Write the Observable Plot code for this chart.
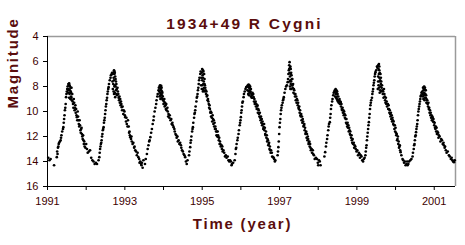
<!DOCTYPE html>
<html>
<head>
<meta charset="utf-8">
<script src="https://cdn.jsdelivr.net/npm/d3@7"></script>
<script src="https://cdn.jsdelivr.net/npm/@observablehq/plot@0.6"></script>
<style>
  html, body { margin: 0; padding: 0; background: #fff; }
  #chart svg { display: block; }
</style>
</head>
<body>
<div id="chart"></div>
<script>
const cycle1 = [
  [1991.02,13.7],[1991.05,13.9],[1991.08,13.8],[1991.17,14.3],
  [1991.24,13.65],[1991.25,13.2],[1991.26,13.4],[1991.27,12.9],[1991.28,12.8],[1991.29,12.6],[1991.30,12.5],[1991.32,12.4],[1991.34,12.3],[1991.35,12.1],[1991.36,11.9],[1991.38,11.6],[1991.40,11.4],[1991.41,11.25],[1991.42,10.9],[1991.43,10.6],[1991.44,10.3],[1991.45,9.9],[1991.46,9.7],[1991.47,9.4],[1991.48,8.85],[1991.49,8.6],[1991.50,8.4],[1991.51,8.2],[1991.52,8.0],[1991.54,7.8],[1991.56,7.75],
  [1991.55,8.2],[1991.57,8.6],[1991.58,8.0],[1991.59,9.0],[1991.60,8.4],[1991.61,8.8],[1991.62,8.1],[1991.63,9.1],[1991.56,8.9],[1991.53,8.5],
  [1991.57,7.9],[1991.58,8.3],[1991.59,8.5],[1991.60,8.1],[1991.61,8.5],[1991.62,8.9],[1991.64,8.6],[1991.65,9.2],[1991.55,7.9],[1991.54,8.3],
  [1991.66,9.4],[1991.67,9.7],[1991.68,9.0],[1991.69,9.3],[1991.70,9.9],[1991.71,9.7],[1991.72,9.5],[1991.73,10.1],[1991.74,9.8],[1991.75,10.3],[1991.76,10.45],[1991.77,10.7],[1991.78,10.0],[1991.79,10.4],[1991.80,10.7],[1991.81,11.0],[1991.82,11.2],[1991.83,10.7],[1991.84,11.1],[1991.85,11.5],[1991.86,11.7],[1991.87,11.4],[1991.88,11.3],[1991.89,11.8],[1991.90,12.0],[1991.91,12.2],[1991.92,11.9],[1991.93,12.3],[1991.94,12.6],[1991.95,12.4],[1991.96,12.8],[1991.98,12.9],[1992.00,12.6],[1992.02,13.0],[1992.04,13.3],[1992.07,13.2],
  [1992.10,13.1],[1992.13,13.7],[1992.16,13.9],[1992.19,14.0],[1992.22,14.2],[1992.25,14.1],[1992.28,14.2]
];
const cycle2 = [
  [1992.32,13.9],[1992.34,13.65],[1992.35,13.3],[1992.36,13.0],[1992.37,12.8],[1992.38,12.6],[1992.39,12.5],[1992.40,12.3],[1992.41,12.0],[1992.42,11.8],[1992.43,11.5],[1992.44,11.4],[1992.45,11.25],[1992.46,10.9],[1992.47,10.7],[1992.48,10.5],[1992.49,10.2],[1992.50,9.9],[1992.51,9.6],[1992.52,9.4],[1992.53,9.1],[1992.54,8.9],[1992.55,8.6],[1992.56,8.4],[1992.57,8.2],[1992.58,8.05],[1992.59,7.8],[1992.61,7.5],[1992.63,7.3],[1992.64,7.1],[1992.66,7.0],[1992.67,6.9],
  [1992.72,6.7],[1992.70,6.9],[1992.68,7.6],[1992.69,8.2],[1992.71,7.3],[1992.72,8.6],[1992.73,7.0],[1992.74,7.9],[1992.75,8.85],[1992.76,7.4],[1992.77,8.3],[1992.74,6.9],[1992.78,7.8],
  [1992.69,7.0],[1992.70,7.8],[1992.71,8.4],[1992.73,8.0],[1992.74,8.5],[1992.75,7.2],[1992.76,8.0],[1992.77,7.6],[1992.78,8.6],[1992.79,8.2],[1992.80,8.7],[1992.72,7.5],[1992.73,6.8],
  [1992.81,8.1],[1992.82,8.4],[1992.83,8.6],[1992.84,8.9],[1992.85,9.1],[1992.86,8.8],[1992.87,9.3],[1992.88,9.0],[1992.89,9.5],[1992.90,9.2],[1992.91,9.4],[1992.92,9.65],[1992.93,9.9],[1992.94,9.6],[1992.96,10.2],[1992.97,9.9],[1992.99,10.0],[1993.00,10.3],[1993.01,10.45],[1993.03,10.8],[1993.04,10.5],[1993.05,11.0],[1993.07,11.2],[1993.08,10.7],[1993.10,11.2],[1993.11,11.7],[1993.12,11.6],[1993.13,11.9],[1993.14,12.05],[1993.16,12.2],[1993.17,12.0],[1993.18,12.4],[1993.20,12.6],[1993.22,12.5],[1993.24,12.9],[1993.25,12.8],[1993.27,13.1],[1993.29,13.2],[1993.31,13.5],[1993.33,13.3],[1993.35,13.65],
  [1993.37,13.8],[1993.38,14.1],[1993.40,14.0],[1993.42,14.2],[1993.43,14.3],[1993.44,14.1],[1993.46,14.5],[1993.48,13.9]
];
const cycle3 = [
  [1993.52,14.2],[1993.54,13.8],[1993.57,13.4],[1993.59,13.0],[1993.61,12.7],[1993.63,12.4],[1993.64,12.3],[1993.66,12.05],[1993.68,11.7],[1993.70,11.4],[1993.72,11.0],[1993.74,10.7],[1993.75,10.4],[1993.77,10.0],[1993.79,9.7],[1993.81,9.4],[1993.82,9.1],[1993.84,8.8],[1993.85,8.6],[1993.87,8.3],[1993.88,8.1],[1993.90,8.0],[1993.91,7.9],
  [1993.89,8.4],[1993.92,8.7],[1993.93,8.1],[1993.95,8.9],[1993.96,8.4],[1993.98,8.8],[1993.90,8.8],[1993.94,7.95],
  [1993.91,8.5],[1993.92,8.2],[1993.93,8.6],[1993.94,8.3],[1993.95,8.1],[1993.96,8.7],[1993.97,8.5],[1993.99,9.1],[1993.97,9.0],[1993.92,9.0],
  [1994.00,9.4],[1994.01,9.2],[1994.02,9.0],[1994.03,9.6],[1994.04,9.3],[1994.05,9.5],[1994.06,9.8],[1994.07,9.4],[1994.08,9.9],[1994.10,9.7],[1994.11,10.0],[1994.12,10.4],[1994.13,10.2],[1994.15,10.5],[1994.16,10.3],[1994.18,10.7],[1994.20,10.6],[1994.21,11.0],[1994.23,10.9],[1994.24,11.1],[1994.26,11.25],[1994.28,11.4],[1994.29,11.6],[1994.31,11.8],[1994.33,11.9],[1994.34,12.1],[1994.36,12.0],[1994.37,12.4],[1994.39,12.3],[1994.41,12.6],[1994.43,12.5],[1994.45,12.7],[1994.46,12.9],[1994.48,13.1],[1994.50,13.2],[1994.52,13.4],[1994.54,13.5],
  [1994.56,13.65],[1994.58,14.0],[1994.60,14.2],[1994.62,13.9]
];
const cycle4 = [
  [1994.66,13.5],[1994.67,13.2],[1994.69,12.85],[1994.70,12.5],[1994.71,12.3],[1994.72,12.0],[1994.74,11.6],[1994.75,11.4],[1994.76,11.25],[1994.77,10.9],[1994.79,10.5],[1994.80,10.2],[1994.81,10.1],[1994.82,9.9],[1994.83,9.6],[1994.85,9.2],[1994.86,8.9],[1994.87,8.8],[1994.88,8.6],[1994.89,8.3],[1994.90,8.1],[1994.91,7.8],[1994.92,7.5],[1994.93,7.3],[1994.95,7.0],[1994.96,6.8],[1995.00,6.6],
  [1994.98,7.3],[1995.00,7.9],[1995.01,7.1],[1995.02,8.4],[1995.03,6.8],[1995.04,7.6],[1995.05,8.1],[1994.97,7.9],[1995.06,7.4],
  [1994.99,6.9],[1995.00,7.5],[1995.01,8.2],[1995.02,7.3],[1995.03,7.8],[1995.04,8.3],[1995.05,7.0],[1995.06,7.8],[1995.07,8.4],[1995.08,8.1],[1995.02,6.7],[1994.99,8.2],
  [1995.07,7.9],[1995.09,8.3],[1995.10,8.6],[1995.11,8.4],[1995.12,8.8],[1995.13,8.7],[1995.14,9.1],[1995.15,9.0],[1995.16,9.2],[1995.17,9.4],[1995.18,9.7],[1995.19,9.5],[1995.20,9.8],[1995.21,10.1],[1995.22,10.0],[1995.23,10.4],[1995.24,10.1],[1995.25,10.5],[1995.26,10.8],[1995.27,10.3],[1995.28,10.6],[1995.29,11.0],[1995.30,10.7],[1995.31,11.2],[1995.32,10.9],[1995.33,11.4],[1995.34,11.2],[1995.35,11.4],[1995.36,11.6],[1995.37,11.9],[1995.38,11.6],[1995.39,12.0],[1995.40,11.6],[1995.41,11.9],[1995.42,12.05],[1995.43,12.3],[1995.44,12.1],[1995.45,12.6],[1995.46,12.4],[1995.47,12.6],[1995.48,12.8],[1995.50,12.7],[1995.51,13.0],[1995.52,12.8],[1995.53,13.2],[1995.55,13.1],[1995.57,13.3],[1995.59,13.6],[1995.61,13.5],[1995.63,13.7],[1995.66,13.6],[1995.68,13.9],
  [1995.70,14.0],[1995.72,13.9],[1995.74,14.0],[1995.76,14.3],[1995.77,14.2],[1995.80,14.1]
];
const cycle5 = [
  [1995.84,13.9],[1995.86,13.4],[1995.87,13.0],[1995.88,12.9],[1995.89,12.6],[1995.91,12.3],[1995.92,12.1],[1995.94,11.8],[1995.95,11.5],[1995.97,11.1],[1995.98,10.9],[1995.99,10.7],[1996.00,10.45],[1996.01,10.1],[1996.02,9.9],[1996.03,9.6],[1996.04,9.3],[1996.05,9.2],[1996.07,8.85],[1996.08,8.6],[1996.10,8.4],[1996.12,8.2],[1996.14,8.05],[1996.16,8.0],[1996.20,7.85],
  [1996.17,8.3],[1996.19,8.6],[1996.21,8.1],[1996.23,8.5],[1996.24,8.0],[1996.26,8.8],[1996.22,7.9],
  [1996.18,7.9],[1996.20,8.4],[1996.21,8.7],[1996.22,8.3],[1996.23,8.1],[1996.25,8.4],[1996.26,8.2],[1996.27,8.6],[1996.28,8.9],[1996.19,8.0],
  [1996.29,8.7],[1996.30,8.5],[1996.31,8.9],[1996.32,8.6],[1996.33,8.85],[1996.34,9.2],[1996.35,9.0],[1996.36,9.4],[1996.37,9.3],[1996.38,9.2],[1996.39,9.6],[1996.40,9.4],[1996.41,9.8],[1996.42,9.6],[1996.43,9.5],[1996.44,10.1],[1996.45,9.8],[1996.46,9.9],[1996.47,10.2],[1996.48,10.4],[1996.49,10.1],[1996.50,10.5],[1996.51,10.7],[1996.52,10.4],[1996.53,10.9],[1996.54,10.6],[1996.55,11.1],[1996.56,10.8],[1996.57,11.0],[1996.58,11.4],[1996.59,11.25],[1996.60,11.0],[1996.61,11.5],[1996.62,11.3],[1996.63,11.8],[1996.64,11.9],[1996.65,11.6],[1996.66,12.1],[1996.67,11.9],[1996.68,12.4],[1996.69,12.2],[1996.70,12.3],[1996.71,12.7],[1996.72,12.6],[1996.73,12.5],[1996.74,13.0],[1996.75,12.8],[1996.76,13.1],[1996.77,13.3],[1996.78,13.1],[1996.80,13.3],[1996.81,13.6],[1996.83,13.65],
  [1996.85,13.7],[1996.86,13.8],[1996.88,14.0],[1996.89,13.9]
];
const cycle6 = [
  [1996.95,13.5],[1996.96,13.2],[1996.97,12.85],[1996.98,12.4],[1996.99,11.8],[1997.00,11.25],[1997.01,10.9],[1997.02,10.6],[1997.03,10.2],[1997.04,9.9],[1997.05,9.7],[1997.06,9.5],[1997.08,9.3],[1997.09,9.1],[1997.10,9.0],[1997.11,8.85],[1997.13,8.5],[1997.15,8.2],[1997.17,8.0],[1997.19,7.9],[1997.21,7.65],[1997.22,7.4],[1997.23,7.0],[1997.24,6.7],[1997.25,6.3],[1997.26,6.05],
  [1997.25,6.6],[1997.27,7.2],[1997.28,6.4],[1997.29,7.8],[1997.30,6.9],[1997.31,8.2],[1997.32,7.4],[1997.27,8.0],[1997.33,7.9],
  [1997.26,6.9],[1997.27,6.5],[1997.28,7.5],[1997.29,7.0],[1997.30,7.6],[1997.31,7.1],[1997.32,7.9],[1997.33,7.4],[1997.34,8.1],[1997.35,7.8],[1997.26,7.6],[1997.29,6.6],[1997.28,8.2],
  [1997.36,8.5],[1997.37,8.2],[1997.38,8.3],[1997.39,8.6],[1997.40,8.8],[1997.41,8.6],[1997.42,9.1],[1997.43,8.8],[1997.44,9.3],[1997.45,9.0],[1997.46,9.1],[1997.47,9.5],[1997.48,9.3],[1997.49,9.7],[1997.50,9.8],[1997.51,9.6],[1997.52,10.1],[1997.53,9.9],[1997.54,10.3],[1997.55,10.4],[1997.56,10.2],[1997.57,10.7],[1997.58,10.4],[1997.59,10.9],[1997.60,10.6],[1997.61,10.8],[1997.62,11.2],[1997.63,11.1],[1997.64,11.0],[1997.65,11.5],[1997.66,11.3],[1997.67,11.8],[1997.68,11.7],[1997.69,11.6],[1997.70,12.1],[1997.71,11.8],[1997.72,12.3],[1997.73,12.0],[1997.74,12.2],[1997.75,12.6],[1997.76,12.45],[1997.77,12.4],[1997.78,12.8],[1997.79,12.6],[1997.80,12.9],[1997.81,13.1],[1997.83,13.0],[1997.84,13.3],[1997.86,13.1],[1997.87,13.4],[1997.89,13.5],
  [1997.91,13.8],[1997.94,13.7],[1997.97,13.8],[1997.99,14.1],[1998.00,14.3],[1998.02,13.9],[1998.04,14.0],[1998.06,14.3]
];
const cycle7 = [
  [1998.16,13.6],[1998.18,13.25],[1998.20,12.8],[1998.21,12.5],[1998.23,12.2],[1998.24,11.9],[1998.26,11.5],[1998.27,11.2],[1998.28,11.0],[1998.30,10.85],[1998.31,10.5],[1998.32,10.2],[1998.33,9.8],[1998.34,9.5],[1998.36,9.2],[1998.37,9.0],[1998.39,8.7],[1998.40,8.5],[1998.42,8.4],[1998.43,8.3],[1998.45,8.2],
  [1998.44,8.8],[1998.46,8.3],[1998.47,8.5],[1998.48,9.0],[1998.50,8.6],[1998.51,9.2],
  [1998.44,8.4],[1998.45,8.6],[1998.46,8.9],[1998.47,8.3],[1998.48,8.6],[1998.49,8.8],[1998.50,9.1],[1998.52,8.8],[1998.53,9.3],[1998.49,8.4],
  [1998.54,9.1],[1998.55,9.0],[1998.56,9.4],[1998.57,9.2],[1998.58,9.25],[1998.59,9.6],[1998.60,9.4],[1998.61,9.8],[1998.62,9.9],[1998.63,9.7],[1998.64,10.1],[1998.65,9.9],[1998.66,10.3],[1998.67,10.0],[1998.68,10.2],[1998.69,10.5],[1998.70,10.3],[1998.71,10.6],[1998.72,10.9],[1998.73,10.6],[1998.74,11.0],[1998.75,11.2],[1998.76,10.9],[1998.77,11.3],[1998.78,11.1],[1998.79,11.6],[1998.80,11.3],[1998.81,11.5],[1998.82,11.8],[1998.83,11.6],[1998.84,11.9],[1998.85,12.1],[1998.86,11.9],[1998.87,12.3],[1998.88,12.5],[1998.89,12.2],[1998.90,12.6],[1998.92,12.5],[1998.93,12.9],[1998.94,12.7],[1998.96,12.8],[1998.97,13.0],[1998.99,13.2],[1999.01,13.1],[1999.03,13.5],[1999.05,13.3],[1999.07,13.4],[1999.08,13.7],[1999.10,13.5],[1999.12,13.6],
  [1999.14,13.9],[1999.16,14.0],[1999.18,13.8],[1999.20,13.7],[1999.22,13.5]
];
const cycle8 = [
  [1999.23,13.2],[1999.24,12.9],[1999.25,12.7],[1999.26,12.3],[1999.27,12.0],[1999.28,11.7],[1999.29,11.4],[1999.30,11.1],[1999.31,10.85],[1999.32,10.5],[1999.33,10.2],[1999.34,9.8],[1999.35,9.5],[1999.36,9.3],[1999.37,9.1],[1999.39,8.9],[1999.40,8.6],[1999.41,8.4],[1999.42,8.2],[1999.43,7.9],[1999.44,7.7],[1999.45,7.5],[1999.46,7.2],[1999.47,7.0],[1999.48,6.85],[1999.50,6.7],[1999.52,6.4],[1999.53,6.5],[1999.55,6.3],[1999.57,6.2],
  [1999.54,8.2],[1999.55,7.2],[1999.56,7.9],[1999.58,6.7],[1999.59,7.6],[1999.60,8.3],[1999.61,7.0],[1999.62,7.8],[1999.63,8.4],
  [1999.56,6.6],[1999.57,7.0],[1999.58,7.3],[1999.59,6.9],[1999.60,7.5],[1999.61,8.0],[1999.62,7.3],[1999.63,7.6],[1999.64,8.1],[1999.65,7.9],[1999.66,8.3],[1999.55,7.6],[1999.57,8.1],[1999.58,6.4],[1999.59,8.5],
  [1999.67,8.6],[1999.68,8.4],[1999.69,8.9],[1999.70,8.2],[1999.71,8.6],[1999.72,8.8],[1999.73,9.1],[1999.74,9.3],[1999.75,8.9],[1999.76,9.4],[1999.77,9.2],[1999.78,9.6],[1999.79,9.4],[1999.80,9.4],[1999.81,9.8],[1999.82,9.5],[1999.83,9.8],[1999.84,10.1],[1999.85,9.9],[1999.86,10.2],[1999.87,10.4],[1999.88,10.1],[1999.89,10.6],[1999.90,10.3],[1999.91,10.8],[1999.92,10.5],[1999.93,10.7],[1999.94,11.0],[1999.95,10.8],[1999.96,11.1],[1999.97,11.4],[1999.98,11.1],[1999.99,11.6],[2000.00,11.3],[2000.01,11.7],[2000.02,11.9],[2000.03,11.8],[2000.04,12.3],[2000.05,12.2],[2000.06,12.0],[2000.07,12.6],[2000.08,12.4],[2000.09,12.9],[2000.10,12.8],[2000.11,12.7],[2000.12,13.1],[2000.13,13.25],[2000.15,13.5],
  [2000.18,13.8],[2000.20,13.9],[2000.22,14.1],[2000.24,14.0],[2000.26,14.3],[2000.28,14.2],[2000.30,14.0],[2000.31,14.3],[2000.33,14.2],[2000.35,14.0],[2000.38,13.9]
];
const cycle9 = [
  [2000.41,13.8],[2000.44,13.6],[2000.45,13.3],[2000.47,13.0],[2000.48,12.7],[2000.49,12.6],[2000.50,12.3],[2000.51,12.0],[2000.52,11.9],[2000.53,11.65],[2000.54,11.4],[2000.55,11.2],[2000.56,11.0],[2000.57,10.7],[2000.58,10.3],[2000.59,10.0],[2000.60,9.8],[2000.61,9.6],[2000.62,9.4],[2000.63,9.2],[2000.64,9.0],[2000.65,8.8],[2000.66,8.7],[2000.67,8.5],[2000.69,8.4],[2000.71,8.1],[2000.73,8.05],
  [2000.71,8.8],[2000.74,8.5],[2000.75,9.1],[2000.76,8.1],[2000.77,8.3],[2000.78,8.9],[2000.80,9.3],
  [2000.70,8.6],[2000.72,8.3],[2000.73,8.7],[2000.74,8.2],[2000.75,8.6],[2000.76,8.9],[2000.77,8.6],[2000.78,8.3],[2000.79,8.7],[2000.80,9.0],[2000.81,9.3],[2000.82,9.1],[2000.72,9.0],[2000.74,8.0],
  [2000.83,9.4],[2000.84,9.6],[2000.85,9.3],[2000.86,9.8],[2000.87,9.7],[2000.88,10.1],[2000.89,9.9],[2000.90,10.3],[2000.91,10.1],[2000.92,10.5],[2000.93,10.3],[2000.94,10.7],[2000.95,10.4],[2000.96,10.5],[2000.97,10.8],[2000.98,10.6],[2000.99,10.85],[2001.00,11.1],[2001.01,10.9],[2001.02,11.3],[2001.03,11.4],[2001.04,11.2],[2001.05,11.6],[2001.06,11.3],[2001.07,11.8],[2001.08,11.6],[2001.10,11.7],[2001.11,12.1],[2001.12,11.9],[2001.14,12.0],[2001.16,12.4],[2001.18,12.2],[2001.20,12.3],[2001.22,12.6],[2001.24,12.5],[2001.25,12.7],[2001.27,12.9],[2001.28,12.8],[2001.30,13.1],[2001.32,13.3],[2001.35,13.2],[2001.38,13.5],[2001.40,13.6],[2001.43,13.8],[2001.45,13.7],[2001.47,13.9],[2001.49,14.0],[2001.51,14.05],[2001.53,13.9]
];

const yearTicks = [1991,1992,1993,1994,1995,1996,1997,1998,1999,2000,2001];
const yearLabels = [1991,1993,1995,1997,1999,2001];
const magTicks = [4,6,8,10,12,14,16];
const xDomain = [1991, 2001.55];
const yDomain = [4, 16];

const obs = [cycle1, cycle2, cycle3, cycle4, cycle5, cycle6, cycle7, cycle8, cycle9]
  .flat().map(([t, m]) => ({year: t, mag: m}));

const font = "'Liberation Sans', Arial, Helvetica, sans-serif";
const maroon = "#5a0d0d";
const tickText = "#3d0000";

const chart = Plot.plot({
  width: 465,
  height: 245,
  marginLeft: 47,
  marginRight: 10,
  marginTop: 36,
  marginBottom: 59,
  style: {fontFamily: font, background: "#fff", overflow: "visible"},
  x: {domain: xDomain},
  y: {domain: yDomain, reverse: true},
  marks: [
    Plot.ruleY([yDomain[0]], {stroke: "#9a9a9a", strokeWidth: 1.5}),
    Plot.ruleX([xDomain[1]], {stroke: "#9a9a9a", strokeWidth: 1.5}),
    Plot.axisX({ticks: yearTicks, tickSize: 4, tickFormat: () => "", color: "#000", label: null}),
    Plot.axisX({ticks: yearLabels, tickSize: 0, tickPadding: 11, tickFormat: d => String(d), color: tickText, fontSize: 11, label: null}),
    Plot.axisY({ticks: magTicks, tickSize: 4, tickFormat: () => "", color: "#000", label: null}),
    Plot.axisY({ticks: magTicks, tickSize: 0, tickPadding: 9, tickFormat: d => String(d), color: tickText, fontSize: 11, label: null}),
    Plot.ruleX([xDomain[0]], {stroke: "#000"}),
    Plot.ruleY([yDomain[1]], {stroke: "#000"}),
    Plot.dot(obs, {x: "year", y: "mag", r: 1.35, fill: "#000", stroke: null}),
    Plot.text(["1934+49 R Cygni"], {frameAnchor: "top-left", dx: 197, dy: -19, textAnchor: "middle", fontSize: 15.5, fontWeight: "bold", fill: maroon}),
    Plot.text(["Time (year)"], {frameAnchor: "bottom-left", dx: 195, dy: 42, textAnchor: "middle", fontSize: 15, fontWeight: "bold", fill: maroon}),
    Plot.text(["Magnitude"], {frameAnchor: "left", dx: -34, dy: -3, rotate: -90, fontSize: 15, fontWeight: "bold", fill: maroon})
  ]
});
chart.querySelectorAll("text").forEach(t => {
  const s = t.textContent;
  if (s === "1934+49 R Cygni") t.style.letterSpacing = "2.2px";
  if (s === "Time (year)" || s === "Magnitude") t.style.letterSpacing = "1.8px";
});
document.getElementById("chart").appendChild(chart);
</script>
</body>
</html>
